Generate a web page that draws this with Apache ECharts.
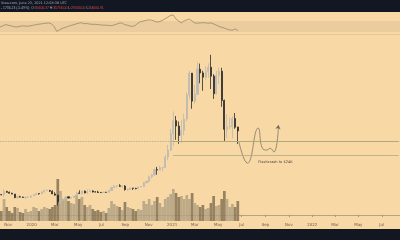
<!DOCTYPE html>
<html><head><meta charset="utf-8">
<script src="https://cdn.jsdelivr.net/npm/echarts@6/dist/echarts.min.js"></script>
<style>html,body{margin:0;padding:0;background:#f8d8a5;}#c{width:400px;height:240px;}</style>
</head><body><div id="c"></div>
<script>
const weeks = [
'2019-10-14','2019-10-21','2019-10-28','2019-11-04','2019-11-11','2019-11-18','2019-11-25','2019-12-02','2019-12-09','2019-12-16','2019-12-23','2019-12-30',
'2020-01-06','2020-01-13','2020-01-20','2020-01-27','2020-02-03','2020-02-10','2020-02-17','2020-02-24','2020-03-02','2020-03-09','2020-03-16','2020-03-23','2020-03-30',
'2020-04-06','2020-04-13','2020-04-20','2020-04-27','2020-05-04','2020-05-11','2020-05-18','2020-05-25','2020-06-01','2020-06-08','2020-06-15','2020-06-22','2020-06-29',
'2020-07-06','2020-07-13','2020-07-20','2020-07-27','2020-08-03','2020-08-10','2020-08-17','2020-08-24','2020-08-31','2020-09-07','2020-09-14','2020-09-21','2020-09-28',
'2020-10-05','2020-10-12','2020-10-19','2020-10-26','2020-11-02','2020-11-09','2020-11-16','2020-11-23','2020-11-30','2020-12-07','2020-12-14','2020-12-21','2020-12-28',
'2021-01-04','2021-01-11','2021-01-18','2021-01-25','2021-02-01','2021-02-08','2021-02-15','2021-02-22','2021-03-01','2021-03-08','2021-03-15','2021-03-22','2021-03-29',
'2021-04-05','2021-04-12','2021-04-19','2021-04-26','2021-05-03','2021-05-10','2021-05-17','2021-05-24','2021-05-31','2021-06-07','2021-06-14','2021-06-21'];

const open = [8280,8230,9550,9200,8800,8480,7050,7400,7250,7100,7150,7250,
7750,8180,8700,8600,9340,9900,9900,9650,8530,8040,5380,5830,6240,
7360,6840,7120,7700,8900,8720,9680,8900,9450,9750,9340,9300,9130,
9080,9230,9160,9930,11050,11760,11850,11650,11700,10250,10330,10920,10780,
10670,11380,11500,13030,13560,15480,16300,18420,18180,19150,19270,23480,26270,
33000,38200,36000,32200,34250,38880,48600,57400,46100,48900,59020,57520,55800,
58000,59800,56200,49100,56600,58200,46400,34700,35700,35800,39100,35600];
const close = [8230,9550,9200,8800,8480,7050,7400,7250,7100,7150,7250,7750,
8180,8700,8600,9340,9900,9900,9650,8530,8040,5380,5830,6240,7360,
6840,7120,7700,8900,8720,9680,8900,9450,9750,9340,9300,9130,9080,
9230,9160,9930,11050,11760,11850,11650,11700,10250,10330,10920,10780,10670,
11380,11500,13030,13560,15480,16300,18420,18180,19150,19270,23480,26270,33000,
38200,36000,32200,34250,38880,48600,57400,46100,48900,59020,57520,55800,58000,
59800,56200,49100,56600,58200,46400,34700,35700,35800,39100,35500,34000];
const low = [7940,7300,9000,8750,8400,6800,6520,7150,7080,6430,7100,6870,
7680,8100,8220,8560,9150,9700,9300,8500,7850,3850,4440,5690,5860,
6770,6460,6800,7650,8560,8200,8800,8640,9270,9100,9200,8900,8900,
9050,9050,9140,9920,10950,11100,11350,11150,9880,9880,10200,10130,10400,
10550,11200,11400,12980,13200,14800,15800,16330,18100,17650,19000,22200,25900,
28000,30420,28800,29240,32300,37980,47000,43000,45000,49300,53300,50300,54700,
55500,51000,47000,48800,53000,43800,30000,31100,34800,31000,34900,28800];
const high = [8420,10370,9800,9480,9000,8500,7850,7750,7400,7500,7700,7500,
8460,9000,8750,9560,10200,10500,10200,9950,9200,8150,6900,6960,7470,
7470,7290,7750,9460,10000,9900,9900,10380,10400,9990,9600,9800,9290,
9400,9280,10000,11420,12000,12070,12480,11800,12080,10650,11100,10950,11000,
11470,11740,13350,14100,15960,16480,18800,19480,19920,19400,24300,28400,34800,
41950,40100,37850,38500,40950,49700,58350,57500,52600,61800,61300,58400,60200,
61400,64850,57000,58400,59600,59600,46700,40800,39500,40000,41300,35760];
const volume = [10,22,14,10,8,14,13,9,8,12,9,10,
14,13,10,12,14,13,12,14,16,42,30,22,24,
20,18,17,26,22,24,16,14,16,12,10,11,9,
10,8,13,20,17,15,14,11,19,14,13,12,10,
12,11,20,17,22,16,20,24,18,14,22,24,27,
32,28,24,25,22,26,22,28,18,16,14,16,12,
13,18,25,15,16,22,30,22,14,17,14,20];
const rsi = [48,52,57,55,52,50,48,50,52,52,51,52,
54,56,58,59,61,62,63,60,50,32,38,43,46,
50,53,56,59,62,64,60,61,59,58,58,57,56,
55,55,54,53,55,58,62,63,57,55,52,50,54,
62,68,70,72,74,73,70,66,68,72,78,84,90,
92,78,70,63,70,74,77,70,63,62,63,64,63,
62,63,59,55,50,47,44,40,37,37,41,35];

const projDates = ['2021-06-24','2021-07-16','2021-08-13','2021-08-24','2021-09-05','2021-09-13','2021-09-23','2021-10-05'];
const projPrice = [29500,21000,35200,27000,26300,27000,25500,36400];

const supportLevel = 30000, supportStart = '2021-01-01';
const flashLevel = 24000, flashStart = '2021-01-03';
const flashText = 'Flashcrash to $24K';
const axisStart = '2019-10-14', axisEnd = '2022-08-14';

const DAY = 86400000;
const candleData = weeks.map((d,i)=>[d, open[i], close[i], low[i], high[i]]);
const volData = weeks.map((d,i)=>({value:[d, volume[i]], itemStyle:{color: close[i]>=open[i] ? 'rgba(178,162,130,0.85)' : 'rgba(140,122,90,0.9)'}}));
const projData = projDates.map((d,i)=>{
  const p = {value:[d, projPrice[i]]};
  if (i === projDates.length-1) { p.symbol='arrow'; p.symbolSize=4; p.symbolRotate=-8; }
  return p;
});
const rsiData = weeks.map((d,i)=>[d, rsi[i]]);

const chart = echarts.init(document.getElementById('c'), null, {renderer:'canvas'});
chart.setOption({
  animation:false,
  backgroundColor:'#f8d8a5',
  grid:[{left:0,right:0,top:35,bottom:19},{left:0,right:0,top:12.75,height:27.5}],
  xAxis:[
    {type:'time',gridIndex:0,min:axisStart,max:axisEnd,minInterval:60*DAY,maxInterval:62*DAY,splitNumber:16,
     axisLine:{lineStyle:{color:'#b3a488',width:1}},
     axisTick:{show:true,length:2,lineStyle:{color:'#a3967c'}},
     splitLine:{show:false},
     axisLabel:{fontSize:4,color:'#6d6353',margin:2,showMinLabel:false,showMaxLabel:false,fontFamily:'DejaVu Sans',
       formatter:{year:'{yyyy}',month:'{MMM}',day:'{MMM}'}}},
    {type:'time',gridIndex:1,min:axisStart,max:axisEnd,show:false}
  ],
  yAxis:[
    {gridIndex:0,min:-2430,max:72870,show:false,splitLine:{show:false}},
    {gridIndex:0,min:0,max:186,show:false,splitLine:{show:false}},
    {gridIndex:1,min:0,max:100,show:false,splitLine:{show:false}}
  ],
  series:[
    {type:'bar',xAxisIndex:0,yAxisIndex:1,data:volData,barWidth:2.7,z:1},
    {type:'candlestick',xAxisIndex:0,yAxisIndex:0,data:candleData,barWidth:1.6,z:3,
     itemStyle:{color:'#bdb9b1',color0:'#2c2c2c',borderColor:'#bdb9b1',borderColor0:'#2c2c2c',borderWidth:0.8},
     markLine:{symbol:'none',silent:true,label:{show:false},
       data:[
         {yAxis:supportLevel,lineStyle:{type:'dotted',color:'#a49f88',width:0.8}},
         [{coord:[supportStart,supportLevel],lineStyle:{type:'solid',color:'#a8a87a',width:0.9}},{coord:[axisEnd,supportLevel]}],
         [{coord:[flashStart,flashLevel],lineStyle:{type:'solid',color:'#b3b08a',width:0.9}},{coord:[axisEnd,flashLevel]}]
       ]}},
    {type:'line',xAxisIndex:0,yAxisIndex:0,data:projData,smooth:0.5,symbol:'none',z:4,
     lineStyle:{color:'#6f6a60',width:0.7},itemStyle:{color:'#6f6a60'},
     markPoint:{symbol:'rect',symbolSize:0,data:[{coord:['2021-09-27',21500],label:{show:true,formatter:flashText,fontSize:3.6,color:'#4a453c',fontFamily:'DejaVu Sans'}}]}},
    {type:'line',xAxisIndex:1,yAxisIndex:2,data:rsiData,symbol:'none',smooth:false,z:3,
     lineStyle:{color:'#8c7f66',width:0.7},
     markArea:{silent:true,itemStyle:{color:'#ebcc9f'},data:[[{yAxis:30},{yAxis:70}]]}}
  ],
  graphic:[
    {type:'rect',shape:{x:0,y:0,width:400,height:12},style:{fill:'#131722'},z:10},
    {type:'rect',shape:{x:0,y:229,width:400,height:11},style:{fill:'#131722'},z:10},
    {type:'line',shape:{x1:0,y1:34.5,x2:400,y2:34.5},style:{stroke:'#e6c897',lineWidth:1},z:10},
    {type:'text',left:1,top:1.5,z:11,style:{text:'View.com, June 23, 2021 12:08:36 UTC',fill:'#a9adb6',fontSize:3.4,fontFamily:'DejaVu Sans'}},
    {type:'text',left:1,top:6.5,z:11,style:{text:'{g|- 1736.23 (-5.49%)  O:}{r|35600.37}{g| H:}{r|35756.00}{g| L:}{r|29533.00}{g| C:}{r|34000.91}',
      fontSize:3.4,fontFamily:'DejaVu Sans',rich:{g:{fill:'#a9adb6',fontSize:3.4},r:{fill:'#e0484a',fontSize:3.4}}}}
  ]
});
</script></body></html>
